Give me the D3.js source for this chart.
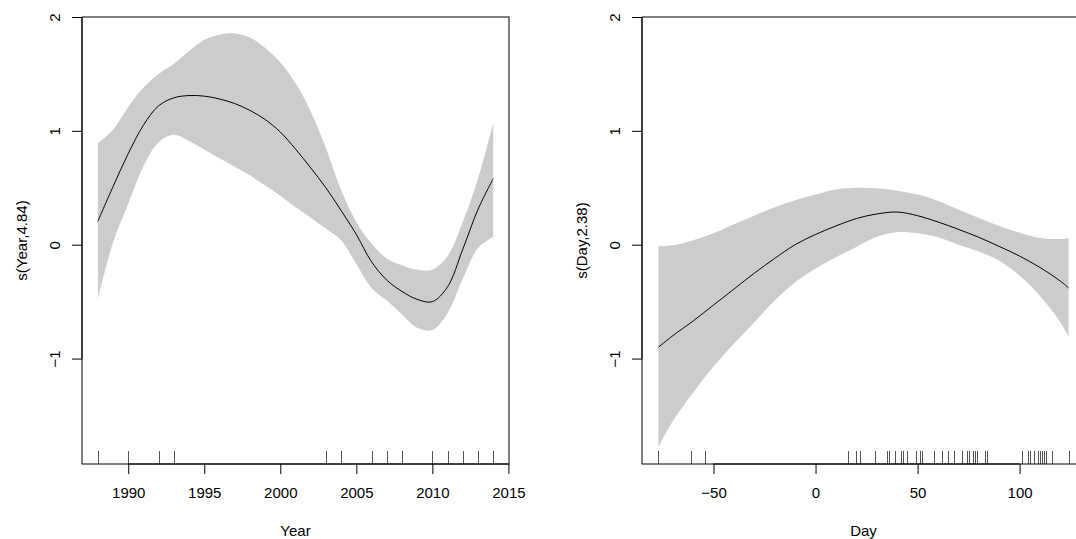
<!DOCTYPE html>
<html>
<head>
<meta charset="utf-8">
<script src="https://cdn.jsdelivr.net/npm/d3@7"></script>
<style>
  body { margin: 0; background: #fff; }
  text { font-family: "Liberation Sans", Arial, sans-serif; fill: #000; }
</style>
</head>
<body>
<svg id="chart" width="1076" height="539"></svg>
<script>
// smooth of Year
var years     = [1988,1989,1990,1991,1992,1993,1994,1995,1996,1997,1998,1999,2000,2001,2002,2003,2004,2005,2006,2007,2008,2009,2010,2011,2012,2013,2014];
var yearFit   = [0.205,0.51,0.80,1.05,1.22,1.29,1.31,1.305,1.28,1.24,1.18,1.10,0.99,0.84,0.675,0.50,0.30,0.09,-0.15,-0.31,-0.41,-0.48,-0.50,-0.37,-0.04,0.31,0.58];
var yearUpper = [0.89,1.01,1.21,1.38,1.50,1.59,1.70,1.80,1.845,1.855,1.82,1.73,1.60,1.42,1.17,0.85,0.48,0.20,0.01,-0.12,-0.18,-0.22,-0.22,-0.10,0.20,0.58,1.07];
var yearLower = [-0.48,0.02,0.36,0.69,0.90,0.965,0.91,0.835,0.76,0.685,0.61,0.52,0.43,0.33,0.24,0.14,0.04,-0.17,-0.38,-0.49,-0.61,-0.73,-0.75,-0.60,-0.30,-0.03,0.07];
var yearRug   = [1988,1990,1992,1993,2003,2004,2006,2007,2008,2010,2011,2012,2013,2014];
var yearTicks = [1990,1995,2000,2005,2010,2015];

// smooth of Day
var days     = [-77,-70,-60,-50,-40,-30,-20,-10,0,10,20,30,40,50,60,70,80,90,100,110,120,124];
var dayFit   = [-0.90,-0.80,-0.67,-0.53,-0.39,-0.25,-0.12,0.00,0.09,0.165,0.23,0.27,0.287,0.255,0.20,0.135,0.065,-0.015,-0.10,-0.20,-0.32,-0.38];
var dayUpper = [-0.015,-0.005,0.04,0.10,0.18,0.255,0.33,0.39,0.44,0.485,0.50,0.495,0.475,0.44,0.385,0.31,0.235,0.165,0.105,0.06,0.05,0.06];
var dayLower = [-1.775,-1.55,-1.30,-1.07,-0.87,-0.68,-0.49,-0.33,-0.21,-0.11,-0.02,0.07,0.11,0.10,0.065,0.00,-0.06,-0.14,-0.27,-0.45,-0.68,-0.81];
var dayRug   = [-77,-61,-54,16,20,22,29,35,36,39,42,43,45,49,51,52,58,62,65,68,72,74,75,77,78,79,83,84,101,104,105,107,109,110,111,112,113,116,124];
var dayTicks = [-50,0,50,100];

var yTicks = [-1,0,1,2];

var svg = d3.select("#chart");

function minusFmt(d) { return d < 0 ? "\u2212" + Math.abs(d) : d; }

function panel(opt) {
    var x = d3.scaleLinear().domain(opt.xdom).range([opt.left, opt.right]);
    var y = d3.scaleLinear().domain([-1.926, 2.0]).range([464, 17]);
    var g = svg.append("g");

    var band = d3.area()
        .x(function(d, i) { return x(opt.xs[i]); })
        .y0(function(d, i) { return y(opt.lower[i]); })
        .y1(function(d, i) { return y(opt.upper[i]); })
        .curve(d3.curveCatmullRom.alpha(0.5));
    g.append("path").datum(opt.xs)
        .attr("d", band)
        .attr("fill", "#cccccc");

    var line = d3.line()
        .x(function(d, i) { return x(opt.xs[i]); })
        .y(function(d, i) { return y(opt.fit[i]); })
        .curve(d3.curveCatmullRom.alpha(0.5));
    g.append("path").datum(opt.xs)
        .attr("d", line)
        .attr("fill", "none")
        .attr("stroke", "#000")
        .attr("stroke-width", 1);

    // rug
    g.selectAll("line.rug").data(opt.rug).enter().append("line")
        .attr("class", "rug")
        .attr("x1", function(d) { return Math.round(x(d)) + 0.5; })
        .attr("x2", function(d) { return Math.round(x(d)) + 0.5; })
        .attr("y1", 451)
        .attr("y2", 464)
        .attr("stroke", "#555")
        .attr("stroke-width", 1);

    // box
    g.append("rect")
        .attr("x", opt.left).attr("y", 17)
        .attr("width", opt.right - opt.left).attr("height", 447)
        .attr("fill", "none")
        .attr("stroke", "#000")
        .attr("stroke-width", 1);

    // x axis
    var xa = g.append("g").attr("transform", "translate(0,464)")
        .call(d3.axisBottom(x).tickValues(opt.ticks).tickSize(10).tickSizeOuter(0).tickFormat(minusFmt));
    xa.select(".domain").attr("d", "M" + x(opt.ticks[0]) + ",0H" + x(opt.ticks[opt.ticks.length - 1]));
    xa.selectAll("text").attr("y", 29).attr("dy", "0.36em")
        .style("font-size", "15px").style("font-family", "Liberation Sans, Arial, sans-serif");
    xa.selectAll("line, path").attr("stroke", "#000");

    // y axis
    var ya = g.append("g").attr("transform", "translate(" + opt.left + ",0)")
        .call(d3.axisLeft(y).tickValues(yTicks).tickSize(10).tickSizeOuter(0).tickFormat(minusFmt));
    ya.select(".domain").attr("d", "M0," + y(-1) + "V" + y(2));
    ya.selectAll("text")
        .attr("transform", "rotate(-90)")
        .attr("x", 0).attr("y", -22).attr("dy", 0)
        .attr("text-anchor", "middle")
        .style("font-size", "15px").style("font-family", "Liberation Sans, Arial, sans-serif");
    ya.selectAll("line, path").attr("stroke", "#000");

    // titles
    g.append("text")
        .attr("x", (opt.left + opt.right) / 2).attr("y", 536)
        .attr("text-anchor", "middle")
        .style("font-size", "15px")
        .text(opt.xlab);
    g.append("text")
        .attr("transform", "translate(" + (opt.left - 55) + ",240.5) rotate(-90)")
        .attr("text-anchor", "middle")
        .style("font-size", "15px")
        .text(opt.ylab);
}

panel({
    xs: years, fit: yearFit, upper: yearUpper, lower: yearLower, rug: yearRug,
    ticks: yearTicks, xdom: [1986.96, 2015.04], left: 82, right: 509,
    xlab: "Year", ylab: "s(Year,4.84)"
});

panel({
    xs: days, fit: dayFit, upper: dayUpper, lower: dayLower, rug: dayRug,
    ticks: dayTicks, xdom: [-85.04, 132.04], left: 642, right: 1085,
    xlab: "Day", ylab: "s(Day,2.38)"
});
</script>
</body>
</html>
